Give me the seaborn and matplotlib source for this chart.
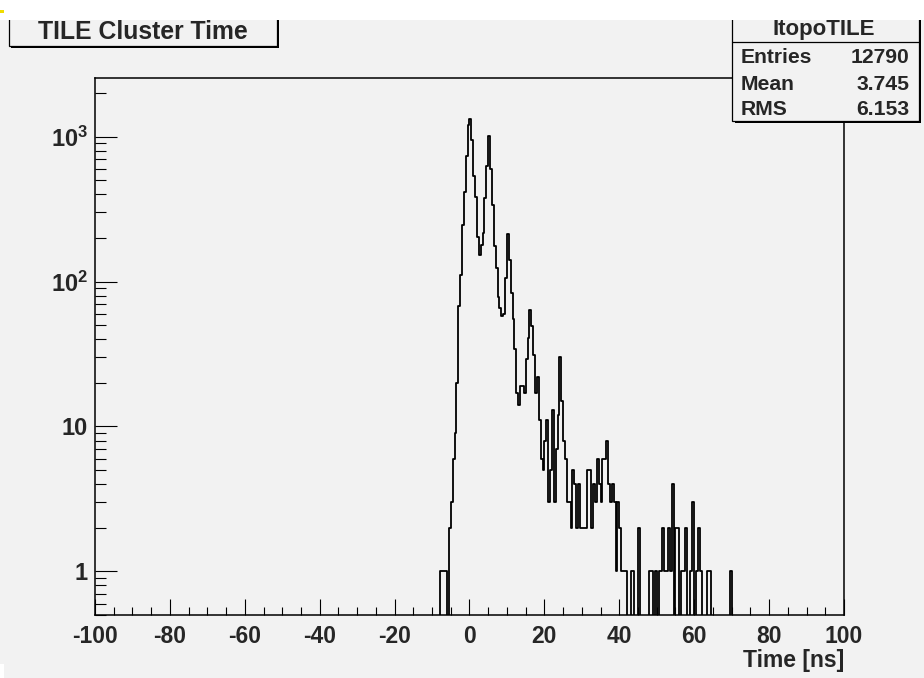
import numpy as np
import pandas as pd
import matplotlib
matplotlib.use("Agg")
import matplotlib.pyplot as plt
import seaborn as sns
from matplotlib.ticker import FixedLocator, FixedFormatter, MultipleLocator, LogLocator, NullFormatter
from matplotlib.patches import Rectangle

# ---- chart content -------------------------------------------------------
title = "TILE Cluster Time"
x_label = "Time [ns]"
stats_name = "ItopoTILE"
stats_labels = ["Entries", "Mean", "RMS"]
stats_values = ["12790", "3.745", "6.153"]

n_bins = 400
x_range = (-100, 100)

# lower edge (ns) of every non-empty 0.5 ns bin and its content
bin_start = [
    -8.0, -7.5, -7.0, -6.5,
    -5.5, -5.0, -4.5, -4.0, -3.5, -3.0, -2.5, -2.0, -1.5, -1.0, -0.5,
    0.0, 0.5, 1.0, 1.5, 2.0, 2.5, 3.0, 3.5, 4.0, 4.5, 5.0, 5.5, 6.0, 6.5,
    7.0, 7.5, 8.0, 8.5, 9.0, 9.5, 10.0, 10.5, 11.0, 11.5, 12.0, 12.5,
    13.0, 13.5, 14.0, 14.5, 15.0, 15.5, 16.0, 16.5, 17.0, 17.5, 18.0,
    18.5, 19.0, 19.5, 20.0, 20.5, 21.0, 21.5, 22.0, 22.5, 23.0, 23.5,
    24.0, 24.5, 25.0, 25.5, 26.0, 26.5, 27.0, 27.5, 28.0, 28.5, 29.0,
    29.5, 30.0, 30.5, 31.0, 31.5, 32.0, 32.5, 33.0, 33.5, 34.0, 34.5,
    35.0, 35.5, 36.0, 36.5, 37.0, 37.5, 38.0, 38.5, 39.0, 39.5, 40.0,
    40.5, 41.0, 41.5, 43.0, 43.5, 45.0, 48.0, 48.5, 49.5, 50.5, 51.0,
    51.5, 52.0, 52.5, 53.0, 53.5, 54.0, 55.0, 55.5, 56.5, 57.0, 57.5,
    59.0, 59.5, 60.5, 61.0, 61.5, 63.5, 64.0, 69.5,
]
bin_count = [
    1, 1, 1, 1,
    2, 3, 6, 9, 20, 68, 111, 244, 417, 741, 1208,
    1327, 955, 537, 381, 204, 152, 179, 216, 379, 623, 1005, 599, 337, 176,
    124, 78, 66, 58, 60, 105, 213, 140, 83, 55, 34, 17,
    14, 19, 19, 17, 29, 41, 64, 49, 31, 17, 22,
    11, 6, 5, 8, 11, 3, 5, 13, 3, 7, 12,
    30, 15, 8, 6, 3, 3, 2, 5, 4, 2, 4,
    2, 2, 2, 2, 5, 5, 2, 4, 3, 6, 4,
    3, 6, 6, 8, 4, 3, 4, 3, 1, 3, 2,
    1, 1, 1, 1, 1, 2, 1, 1, 1, 1, 1,
    2, 1, 1, 2, 1, 4, 2, 2, 1, 1, 2,
    1, 3, 1, 2, 1, 1, 1, 1,
]

x_ticks = [-100, -80, -60, -40, -20, 0, 20, 40, 60, 80, 100]
x_tick_labels = [str(v) for v in x_ticks]
y_ticks = [1, 10, 100, 1000]
y_tick_labels = ["1", "10", r"$\mathbf{10^{2}}$", r"$\mathbf{10^{3}}$"]
y_range = (0.5, 2540)

# ---- style ---------------------------------------------------------------
sns.set_theme(style="white")
plt.rcParams["font.family"] = ["Liberation Sans", "DejaVu Sans"]
plt.rcParams["font.weight"] = "bold"
plt.rcParams["mathtext.fontset"] = "custom"
plt.rcParams["mathtext.bf"] = "Liberation Sans:bold"
plt.rcParams["mathtext.rm"] = "Liberation Sans:bold"

BG = "#f2f2f2"
W, H = 924, 678
fig = plt.figure(figsize=(W / 100, H / 100), dpi=100, facecolor=BG)


def rect_px(x0, y0, x1, y1):
    """pixel box (origin top-left) -> figure-fraction rect"""
    return [x0 / W, 1 - y1 / H, (x1 - x0) / W, (y1 - y0) / H]


ax = fig.add_axes(rect_px(95, 78, 844, 615))
ax.set_facecolor(BG)
ax.set_yscale("log")

df = pd.DataFrame({"time": np.asarray(bin_start) + 0.25, "count": bin_count})
sns.histplot(data=df, x="time", weights="count", bins=n_bins, binrange=x_range,
             element="step", fill=False, color="black", linewidth=1.3, ax=ax)

ax.set_xlim(*x_range)
ax.set_ylim(*y_range)
ax.set_ylabel("")
ax.set_xlabel(x_label, ha="right", va="baseline", fontsize=16.5, fontweight="bold")
ax.xaxis.set_label_coords(1.0, -(667 - 615) / 537)

for sp in ax.spines.values():
    sp.set_visible(True)
    sp.set_color("black")
    sp.set_linewidth(1.1)

ax.xaxis.set_major_locator(FixedLocator(x_ticks))
ax.xaxis.set_major_formatter(FixedFormatter(x_tick_labels))
ax.xaxis.set_minor_locator(MultipleLocator(5))
ax.yaxis.set_major_locator(FixedLocator(y_ticks))
ax.yaxis.set_major_formatter(FixedFormatter(y_tick_labels))
ax.yaxis.set_minor_locator(LogLocator(base=10, subs=np.arange(2, 10) * 1.0, numticks=30))
ax.yaxis.set_minor_formatter(NullFormatter())

ax.tick_params(axis="x", which="major", direction="in", length=11.5, width=0.8,
               pad=7, labelsize=16.5, bottom=True, top=False, color="black")
ax.tick_params(axis="x", which="minor", direction="in", length=5.8, width=0.8,
               bottom=True, top=False, color="black")
ax.tick_params(axis="y", which="major", direction="in", length=16, width=0.8,
               pad=5, labelsize=17, left=True, right=False, color="black")
ax.tick_params(axis="y", which="minor", direction="in", length=8, width=0.8,
               left=True, right=False, color="black")
for lab in ax.get_xticklabels() + ax.get_yticklabels():
    lab.set_fontweight("bold")

# ---- title box and statistics box (pixel overlay) ------------------------
ov = fig.add_axes([0, 0, 1, 1], zorder=5)
ov.set_xlim(0, W)
ov.set_ylim(H, 0)
ov.axis("off")
ov.patch.set_alpha(0)

# title pave with shadow
ov.add_patch(Rectangle((10.5, 5), 268, 43, facecolor="black", edgecolor="none"))
ov.add_patch(Rectangle((8.5, 3), 268, 43, facecolor=BG, edgecolor="black", linewidth=0.9))
ov.text(142.7, 39.3, title, ha="center", va="baseline", fontsize=17.8, fontweight="bold")

# statistics pave with shadow
ov.add_patch(Rectangle((734.5, 3), 186, 120, facecolor="black", edgecolor="none"))
ov.add_patch(Rectangle((732, 1), 186.5, 120, facecolor=BG, edgecolor="black", linewidth=0.9))
ov.plot([732, 918.5], [41.7, 41.7], color="black", linewidth=0.9)
ov.text(824, 34.5, stats_name, ha="center", va="baseline", fontsize=16, fontweight="bold")
for lab, val, base in zip(stats_labels, stats_values, [62.7, 89.5, 115.0]):
    ov.text(740.7, base, lab, ha="left", va="baseline", fontsize=15.2, fontweight="bold")
    ov.text(909.5, base, val, ha="right", va="baseline", fontsize=15.2, fontweight="bold")

# blank strip along the top edge of the picture
ov.add_patch(Rectangle((0, 0), W, 20, facecolor="white", edgecolor="none"))
ov.add_patch(Rectangle((0, 10), 4, 3, facecolor="#f0dc00", edgecolor="none"))
ov.add_patch(Rectangle((0, 664), 4, 14, facecolor="white", edgecolor="none"))

fig.savefig("out.png", dpi=100, facecolor=BG)
